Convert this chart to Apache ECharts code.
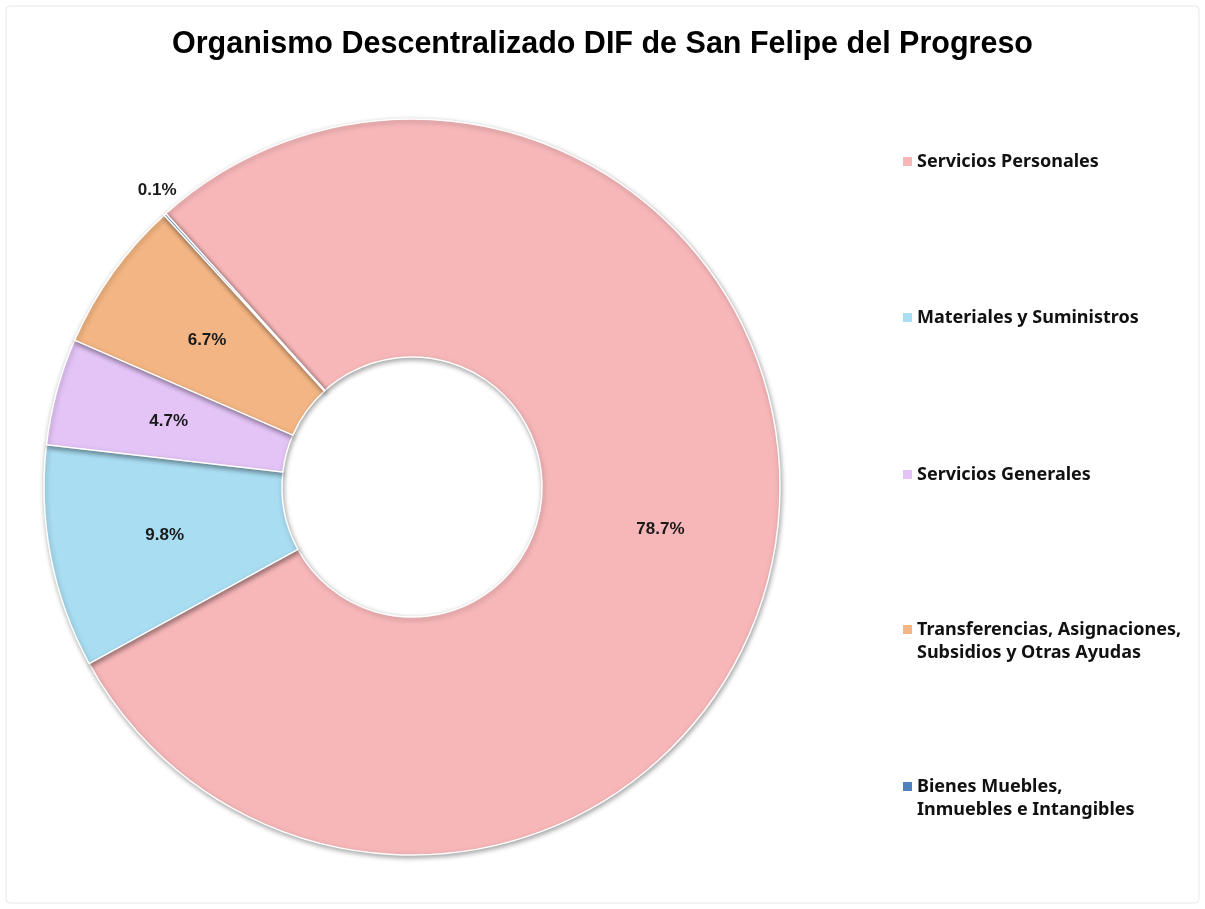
<!DOCTYPE html>
<html>
<head>
<meta charset="utf-8">
<script src="https://cdn.jsdelivr.net/npm/echarts@6/dist/echarts.min.js"></script>
<style>
  html, body { margin: 0; padding: 0; background: #fff; }
  #main { width: 1205px; height: 909px; }
</style>
</head>
<body>
<div id="main"></div>
<script>
// datos del grafico
var titulo = 'Organismo Descentralizado DIF de San Felipe del Progreso';
var categorias = [
    'Servicios Personales',
    'Materiales y Suministros',
    'Servicios Generales',
    'Transferencias, Asignaciones,\nSubsidios y Otras Ayudas',
    'Bienes Muebles,\nInmuebles e Intangibles'
];
var porcentajes = [78.7, 9.8, 4.7, 6.7, 0.1];
var colores = ['#F7B7B9', '#A9DDF2', '#E4C4F7', '#F3B583', '#4F81BD'];
// linea central del primer renglon de cada entrada de la leyenda
var legendY = [160, 316, 473, 628, 785];

var myChart = echarts.init(document.getElementById('main'));

var datos = [];
for (var i = 0; i < categorias.length; i++) {
    var d = { name: categorias[i], value: porcentajes[i] };
    if (porcentajes[i] < 1) {
        // la rebanada chica lleva la etiqueta afuera
        d.label = { position: 'outside', offset: [26, -14] };
        d.labelLine = { show: false, length: 14, length2: 0 };
    }
    datos.push(d);
}

var leyendas = [];
for (var j = 0; j < categorias.length; j++) {
    var dosLineas = categorias[j].indexOf('\n') >= 0;
    leyendas.push({
        data: [categorias[j]],
        orient: 'vertical',
        left: 898,
        top: legendY[j] - 15,
        // en las de dos renglones el cuadrito va arriba, junto al primer renglon
        icon: dosLineas ? 'path://M0,0L9,0L9,9L0,9Z M0,32L0,32Z' : 'rect',
        itemWidth: 9,
        itemHeight: dosLineas ? 32 : 9,
        itemGap: 0,
        selectedMode: false,
        itemStyle: { borderWidth: 0, shadowBlur: 0 },
        textStyle: {
            fontFamily: 'Noto Sans',
            fontWeight: 'bold',
            fontSize: 18,
            color: '#111',
            lineHeight: 23
        }
    });
}

myChart.setOption({
    backgroundColor: '#fff',
    color: colores,
    title: {
        text: titulo,
        left: 'center',
        top: 24,
        textStyle: {
            fontFamily: 'Liberation Sans',
            fontWeight: 'bold',
            fontSize: 30.5,
            color: '#000'
        }
    },
    graphic: [{
        type: 'rect',
        shape: { x: 6, y: 6, width: 1193, height: 897, r: 4 },
        style: { fill: 'none', stroke: '#e8e8e8', lineWidth: 1 },
        silent: true
    }],
    legend: leyendas,
    series: [{
        name: 'Distribucion',
        type: 'pie',
        center: [412, 487],
        radius: [130, 368],
        startAngle: 132,
        clockwise: true,
        avoidLabelOverlap: false,
        itemStyle: {
            borderColor: '#fff',
            borderWidth: 1.5,
            shadowBlur: 5,
            shadowColor: 'rgba(0,0,0,0.35)',
            shadowOffsetX: 1,
            shadowOffsetY: 2
        },
        label: {
            show: true,
            position: 'inside',
            formatter: function (p) { return p.value.toFixed(1) + '%'; },
            fontFamily: 'Liberation Sans',
            fontWeight: 'bold',
            fontSize: 17,
            color: '#1a1a1a'
        },
        emphasis: { disabled: true },
        data: datos
    }]
});
</script>
</body>
</html>
